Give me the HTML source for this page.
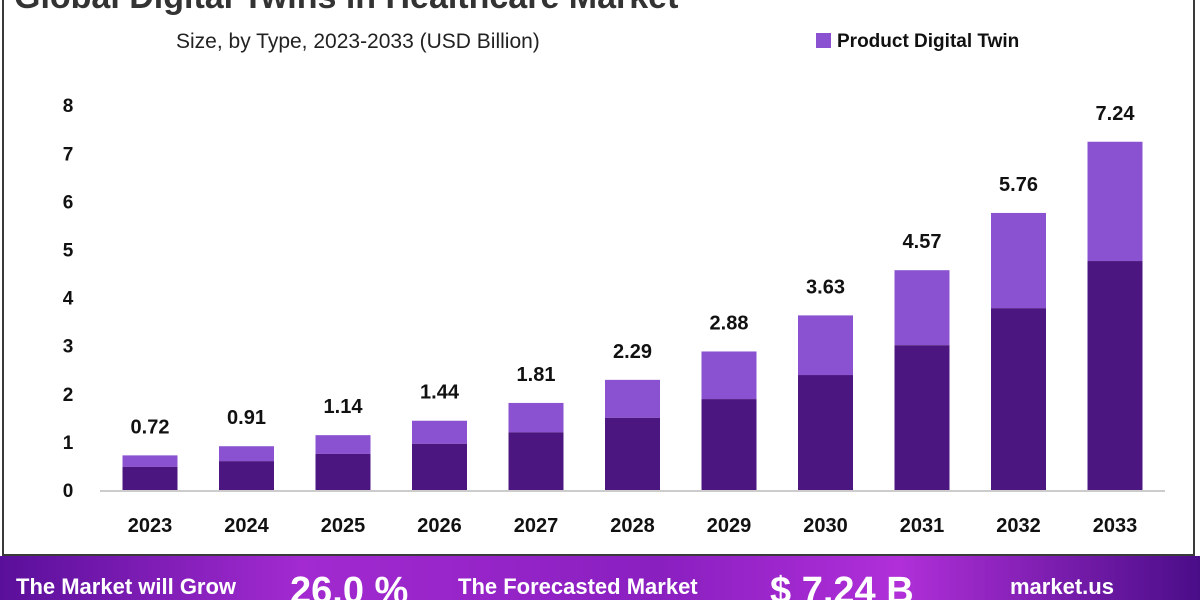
<!DOCTYPE html>
<html><head><meta charset="utf-8"><style>
body{margin:0;width:1200px;height:600px;overflow:hidden;background:#fff;font-family:"Liberation Sans",sans-serif;position:relative}
.frame{position:absolute;left:2px;top:-2px;width:1193px;height:558px;border:2px solid #3a3a3a;border-top:none;box-sizing:border-box}
.title{position:absolute;left:14px;top:-22px;font-size:34px;font-weight:bold;color:#333;white-space:nowrap}
.sub{position:absolute;left:176px;top:30px;font-size:21px;color:#222}
.leg{position:absolute;left:816px;top:31px;font-size:19px;font-weight:bold;color:#111}
.leg i{display:inline-block;width:15px;height:15px;background:#8a52d0;margin-right:6px;vertical-align:-1px}
.banner{position:absolute;left:0;top:556px;width:1200px;height:44px;background:linear-gradient(90deg,#5a0f9a,#a22ad0 25%,#8a1fc0 55%,#b02fd8 75%,#4a0d88);color:#fff;font-weight:bold;white-space:nowrap}
.banner span{position:absolute;top:18px}
</style></head><body>
<div class="frame"></div>
<div class="title">Global Digital Twins in Healthcare Market</div>
<div class="sub">Size, by Type, 2023-2033 (USD Billion)</div>
<div class="leg"><i></i>Product Digital Twin</div>
<svg id="c" width="1200" height="556" style="position:absolute;left:0;top:0"></svg>
<div class="banner">
<span style="left:16px;font-size:22px">The Market will Grow</span>
<span style="left:290px;top:14px;font-size:38px">26.0 %</span>
<span style="left:458px;font-size:22px">The Forecasted Market</span>
<span style="left:770px;top:14px;font-size:38px">$ 7.24 B</span>
<span style="left:1010px;font-size:22px">market.us</span>
</div>
<script>
const categories=["2023","2024","2025","2026","2027","2028","2029","2030","2031","2032","2033"];
const totals=[0.72,0.91,1.14,1.44,1.81,2.29,2.88,3.63,4.57,5.76,7.24];
const lower=[0.48,0.6,0.75,0.96,1.2,1.5,1.89,2.39,3.01,3.78,4.76];
const yTicks=[0,1,2,3,4,5,6,7,8];
const svg=document.getElementById('c');
const NS='http://www.w3.org/2000/svg';
const y0=490,unit=48.1,x0=150,step=96.5,bw=55;
const y=v=>y0-v*unit, x=i=>x0+i*step;
function mk(t,a,txt){const e=document.createElementNS(NS,t);for(const k in a)e.setAttribute(k,a[k]);if(txt!=null)e.textContent=txt;svg.appendChild(e);return e;}
yTicks.forEach(v=>{const t=mk('text',{x:68,y:y(v)+7,'text-anchor':'middle','font-size':19,'font-weight':'bold',fill:'#111'},v);
});
const ax=mk('line',{x1:100,x2:1165,y1:y0+1,y2:y0+1,stroke:'#ccc','stroke-width':2});

categories.forEach((c,i)=>{
 const cx=x(i);
 const b2=mk('rect',{x:cx-bw/2,y:y(totals[i]),width:bw,height:(totals[i]-lower[i])*unit,fill:'#8a52d0'});
 
 const b1=mk('rect',{x:cx-bw/2,y:y(lower[i]),width:bw,height:lower[i]*unit,fill:'#4c1680'});
 
 const v=mk('text',{x:cx,y:y(totals[i])-22,'text-anchor':'middle','font-size':20,'font-weight':'bold',fill:'#111'},totals[i].toFixed(2));
 
 const l=mk('text',{x:cx,y:532,'text-anchor':'middle','font-size':20,'font-weight':'bold',fill:'#111'},c);
 
});
</script>
</body></html>
